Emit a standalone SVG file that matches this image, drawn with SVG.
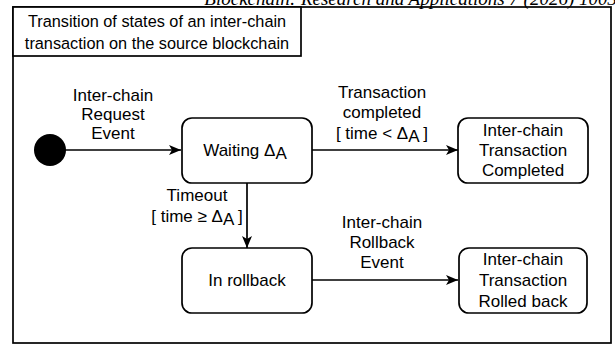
<svg xmlns="http://www.w3.org/2000/svg" width="615" height="348" viewBox="0 0 615 348">
<style>
.t{font-family:"Liberation Sans",Arial,sans-serif;font-size:17px;fill:#000;text-anchor:middle}
.st{fill:#fff;stroke:#000;stroke-width:1.7}
.c{stroke:#000;stroke-width:1.7;fill:none}
.hdr{font-family:"Liberation Serif","Times New Roman",serif;font-style:italic;font-size:19px;fill:#000;text-anchor:end}
</style>
<defs>
<marker id="ah" viewBox="0 0 12 10" refX="12" refY="5" markerWidth="12" markerHeight="10" markerUnits="userSpaceOnUse" orient="auto">
<path d="M0,0 L12,5 L0,10 L3,5 Z" fill="#000"/>
</marker>
</defs>
<rect width="615" height="348" fill="#fff"/>
<text class="hdr" x="617" y="5">Blockchain: Research and Applications 7 (2026) 1003</text>
<g id="frame">
<rect x="13" y="7" width="598" height="336" fill="none" stroke="#000" stroke-width="1.7"/>
<rect x="13" y="7" width="288" height="49" fill="#fff" stroke="#000" stroke-width="1.7"/>
<text class="t" x="157" y="27" style="font-size:16.3px">Transition of states of an inter-chain</text>
<text class="t" x="157" y="49" style="font-size:16.3px">transaction on the source blockchain</text>
</g>
<g id="connectors">
<line class="c" x1="50" y1="150" x2="181" y2="150" marker-end="url(#ah)"/>
<line class="c" x1="312" y1="150" x2="458" y2="150" marker-end="url(#ah)"/>
<line class="c" x1="247" y1="183" x2="247" y2="248" marker-end="url(#ah)"/>
<line class="c" x1="312" y1="280" x2="458" y2="280" marker-end="url(#ah)"/>
<text class="t" x="113" y="101">Inter-chain</text>
<text class="t" x="113" y="120">Request</text>
<text class="t" x="113" y="139">Event</text>
<text class="t" x="382" y="98">Transaction</text>
<text class="t" x="382" y="118">completed</text>
<text class="t" x="382" y="139">[ time &lt; Δ<tspan dy="3">A</tspan><tspan dy="-3"> ]</tspan></text>
<text class="t" x="197" y="201">Timeout</text>
<text class="t" x="197" y="222">[ time ≥ Δ<tspan dy="3">A</tspan><tspan dy="-3"> ]</tspan></text>
<text class="t" x="382" y="228">Inter-chain</text>
<text class="t" x="382" y="248">Rollback</text>
<text class="t" x="382" y="268">Event</text>
</g>
<g id="start"><circle cx="50" cy="150" r="16" fill="#000"/></g>
<g id="waiting">
<rect class="st" x="182" y="118" width="130" height="65" rx="10"/>
<text class="t" x="245" y="156">Waiting Δ<tspan dy="3">A</tspan></text>
</g>
<g id="completed">
<rect class="st" x="458" y="118" width="130" height="65" rx="10"/>
<text class="t" x="523" y="136">Inter-chain</text>
<text class="t" x="523" y="156">Transaction</text>
<text class="t" x="523" y="176">Completed</text>
</g>
<g id="rollback">
<rect class="st" x="182" y="248" width="130" height="65" rx="10"/>
<text class="t" x="247" y="286">In rollback</text>
</g>
<g id="rolledback">
<rect class="st" x="459" y="248" width="128" height="65" rx="10"/>
<text class="t" x="523" y="265">Inter-chain</text>
<text class="t" x="523" y="286">Transaction</text>
<text class="t" x="523" y="307">Rolled back</text>
</g>
</svg>
